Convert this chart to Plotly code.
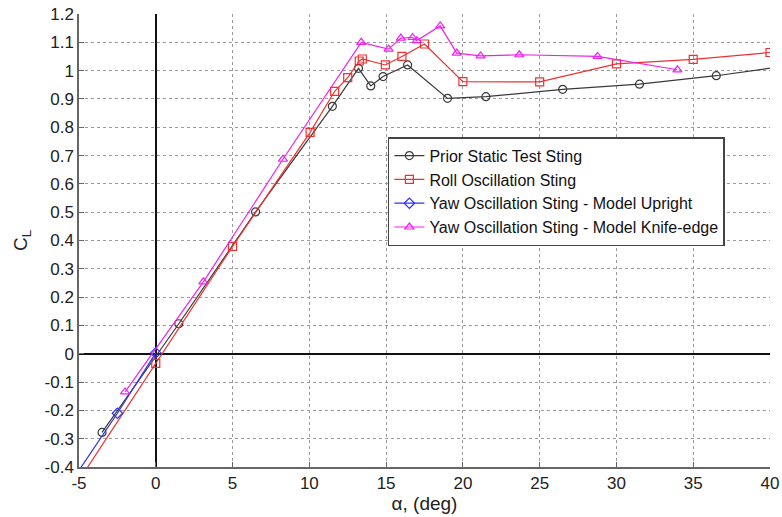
import plotly.graph_objects as go

# Lift coefficient vs angle of attack for the four sting configurations
alpha_static = [-3.5, 1.5, 6.5, 11.5, 13.2, 14.0, 14.8, 16.4, 19.0, 21.5, 26.5, 31.5, 36.5, 41.5]
cl_static = [-0.278, 0.106, 0.501, 0.874, 1.008, 0.946, 0.979, 1.020, 0.902, 0.908, 0.934, 0.952, 0.982, 1.020]

alpha_roll = [-5.0, 0.0, 5.0, 10.05, 11.65, 12.5, 13.25, 13.45, 14.95, 16.03, 17.5, 20.0, 25.0, 30.0, 35.0, 40.0]
cl_roll = [-0.447, -0.034, 0.379, 0.782, 0.927, 0.975, 1.034, 1.041, 1.020, 1.050, 1.094, 0.961, 0.960, 1.024, 1.040, 1.064]

alpha_yaw_up = [-5.5, -2.5, 0.0]
cl_yaw_up = [-0.452, -0.210, 0.003]

alpha_yaw_ke = [-2.0, 3.1, 8.28, 13.38, 15.16, 15.96, 16.72, 17.0, 18.52, 19.6, 21.15, 23.67, 28.77, 33.97]
cl_yaw_ke = [-0.135, 0.254, 0.687, 1.100, 1.076, 1.115, 1.117, 1.106, 1.158, 1.062, 1.052, 1.056, 1.050, 1.003]

x_ticks = [-5, 0, 5, 10, 15, 20, 25, 30, 35, 40]
x_labels = ["-5", "0", "5", "10", "15", "20", "25", "30", "35", "40"]
y_ticks = [-0.4, -0.3, -0.2, -0.1, 0, 0.1, 0.2, 0.3, 0.4, 0.5, 0.6, 0.7, 0.8, 0.9, 1.0, 1.1, 1.2]
y_labels = ["-0.4", "-0.3", "-0.2", "-0.1", "0", "0.1", "0.2", "0.3", "0.4", "0.5",
            "0.6", "0.7", "0.8", "0.9", "1", "1.1", "1.2"]

series = [
    ("Prior Static Test Sting", alpha_static, cl_static, "#3a3a3a", "circle-open"),
    ("Roll Oscillation Sting", alpha_roll, cl_roll, "#f03030", "square-open"),
    ("Yaw Oscillation Sting - Model Upright", alpha_yaw_up, cl_yaw_up, "#3030f0", "diamond-open"),
    ("Yaw Oscillation Sting - Model Knife-edge", alpha_yaw_ke, cl_yaw_ke, "#f020f0", "triangle-up-open"),
]

fig = go.Figure()
for name, x, y, color, symbol in series:
    fig.add_trace(go.Scatter(
        x=x, y=y, name=name, mode="lines+markers",
        line=dict(color=color, width=1.2),
        marker=dict(symbol=symbol, size=8, color=color, line=dict(width=1.2, color=color)),
    ))

font_family = "Liberation Sans, Arial, sans-serif"
fig.update_layout(
    width=782, height=517,
    margin=dict(l=79, r=12, t=14, b=50),
    paper_bgcolor="white", plot_bgcolor="white",
    font=dict(family=font_family, size=17, color="#222"),
    showlegend=True,
    legend=dict(
        x=0.447, y=0.728, xanchor="left", yanchor="top",
        bgcolor="white", bordercolor="#444", borderwidth=1.5,
        font=dict(family=font_family, size=16, color="#111"),
        tracegroupgap=0,
    ),
    xaxis=dict(
        range=[-5, 40], tickvals=x_ticks, ticktext=x_labels, automargin=False,
        showgrid=True, gridcolor="#9a9a9a", griddash="dot", gridwidth=1,
        zeroline=True, zerolinecolor="#111", zerolinewidth=2,
        showline=True, linecolor="#666", linewidth=1.5, mirror=False,
        ticks="inside", ticklen=5, tickcolor="#666",
        title=dict(text="α, (deg)", font=dict(size=19), standoff=1),
    ),
    yaxis=dict(
        range=[-0.4, 1.2], tickvals=y_ticks, ticktext=y_labels, automargin=False,
        showgrid=True, gridcolor="#9a9a9a", griddash="dot", gridwidth=1,
        zeroline=True, zerolinecolor="#111", zerolinewidth=2,
        showline=True, linecolor="#666", linewidth=1.5, mirror=False,
        ticks="inside", ticklen=5, tickcolor="#666",
        title=dict(text="C<sub>L</sub>", font=dict(size=19), standoff=12),
    ),
)

fig.write_html("out.html")
